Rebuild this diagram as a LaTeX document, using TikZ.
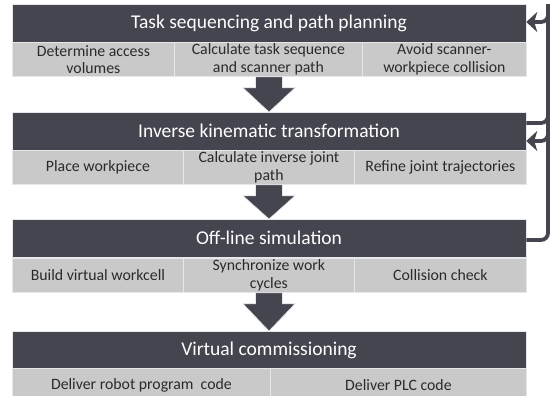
\documentclass[tikz,border=0pt]{standalone}
\usepackage{fontspec}
\setmainfont{Carlito}
\usetikzlibrary{calc,arrows.meta}
\definecolor{barc}{HTML}{44454F}
\definecolor{cellc}{HTML}{C9C9C9}
\definecolor{edgec}{HTML}{E4E8EA}
\definecolor{txtc}{HTML}{2A2A2A}
\tikzset{
  bar/.style={fill=barc, draw=edgec, line width=0.5pt, text=white,
    font=\fontsize{19.5}{22}\selectfont, minimum width=514pt, minimum height=38pt,
    inner sep=0pt, anchor=north},
  cell/.style={fill=cellc, draw=edgec, line width=0.8pt, text=txtc,
    font=\fontsize{15.8}{17.5}\selectfont, minimum height=34pt, inner sep=0pt,
    align=center, anchor=north west},
  loopback/.style={draw=barc, line width=3.8pt, rounded corners=7pt,
    -{Stealth[length=11pt,width=20pt,inset=3pt]}},
}
% downward block arrow from the bottom of one sub-row to the next bar
\newcommand{\blockdown}[2]{%
  \fill[barc, draw=edgec, line width=0.6pt]
    ($(#1)+(-13.5pt,0pt)$) -- ($(#1)+(13.5pt,0pt)$) --
    ($(#1)+(13.5pt,-11pt)$) -- ($(#1)+(26pt,-11pt)$) -- (#2) --
    ($(#1)+(-26pt,-11pt)$) -- ($(#1)+(-13.5pt,-11pt)$) -- cycle;}
\begin{document}
\begin{tikzpicture}[x=1pt,y=-1pt]
\useasboundingbox (0,0) rectangle (552,396);
\clip (0,0) rectangle (552,396);

% stage 1
\node[bar] (b1) at (269,4) {Task sequencing and path planning};
\node[cell, minimum width=162pt] (c11) at (12,42) {Determine access\\volumes};
\node[cell, minimum width=188pt] (c12) at (174,42) {Calculate task sequence\\and scanner path};
\node[cell, minimum width=164pt] (c13) at (362,42) {Avoid scanner-\\workpiece collision};

% stage 2
\node[bar] (b2) at (269,112) {Inverse kinematic transformation};
\node[cell, minimum width=171pt] (c21) at (12,150) {Place workpiece};
\node[cell, minimum width=171pt] (c22) at (183,150) {Calculate inverse joint\\path};
\node[cell, minimum width=172pt] (c23) at (354,150) {Refine joint trajectories};

% stage 3
\node[bar] (b3) at (269,219) {Off-line simulation};
\node[cell, minimum width=171pt] (c31) at (12,258) {Build virtual workcell};
\node[cell, minimum width=171pt] (c32) at (183,258) {Synchronize work\\cycles};
\node[cell, minimum width=172pt] (c33) at (354,258) {Collision check};

% stage 4
\node[bar] (b4) at (269,331) {Virtual commissioning};
\node[cell, minimum width=258pt] (c41) at (12,368) {Deliver robot program\ \ code};
\node[cell, minimum width=256pt] (c42) at (270,368) {Deliver PLC code};

% flow between stages
\coordinate (a1) at (b2.north |- c12.south);
\coordinate (a2) at (b3.north |- c22.south);
\coordinate (a3) at (b4.north |- c32.south);
\blockdown{a1}{b2.north}
\blockdown{a2}{b3.north}
\blockdown{a3}{b4.north}

% feedback loops on the right
\coordinate (r1) at (548,0);
\draw[loopback] ([yshift=-11pt]b2.north east) -| (r1) |- ([yshift=-18pt]b1.north east);
\draw[loopback] ([yshift=-21pt]b3.north east) -| (r1) |- ([yshift=-29pt]b2.north east);
\end{tikzpicture}
\end{document}
